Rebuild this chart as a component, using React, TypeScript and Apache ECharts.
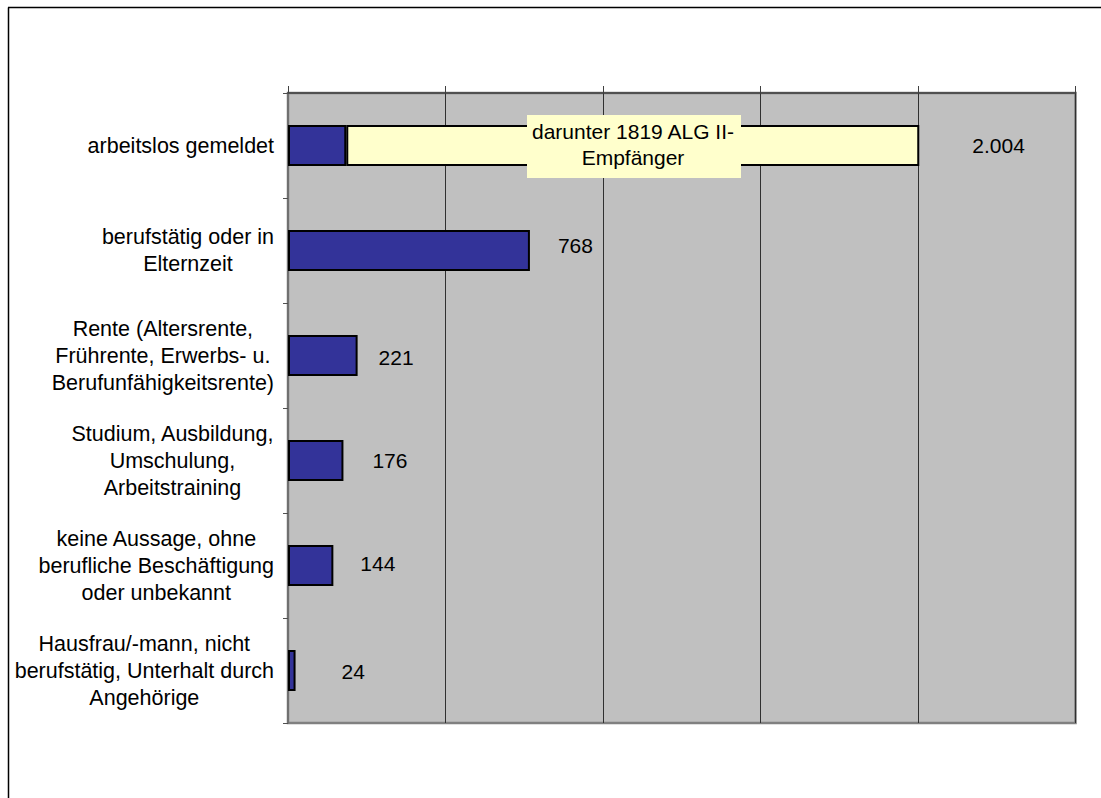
import React, { useEffect, useRef } from "react";
import * as echarts from "echarts";

const categories: string[] = [
  "arbeitslos gemeldet",
  "berufstätig oder in\nElternzeit",
  "Rente (Altersrente,\nFrührente, Erwerbs- u.\nBerufunfähigkeitsrente)",
  "Studium, Ausbildung,\nUmschulung,\nArbeitstraining",
  "keine Aussage, ohne\nberufliche Beschäftigung\noder unbekannt",
  "Hausfrau/-mann, nicht\nberufstätig, Unterhalt durch\nAngehörige",
];

const totals: number[] = [2004, 768, 221, 176, 144, 24];
const algII: (number | null)[] = [1819, null, null, null, null, null];

const xTicks: number[] = [0, 500, 1000, 1500, 2000, 2500];

const labelDistances: number[] = [53, 28, 21, 29, 27, 46];
const labelOffsets: number[][] = [[0, 0], [0, -5], [0, 2], [0, 0], [0, -2], [0, 1]];

const FONT = 'Arial, "Liberation Sans", sans-serif';

const fmt = (v: number): string =>
  v >= 1000 ? Math.floor(v / 1000) + "." + String(v % 1000).padStart(3, "0") : String(v);

export default function App() {
  const ref = useRef<HTMLDivElement>(null);

  useEffect(() => {
    if (!ref.current) return;
    const chart = echarts.init(ref.current, null, { renderer: "svg" });

    const baseValues = totals.map((t, i) => t - (algII[i] ?? 0));

    const option: any = {
      animation: false,
      backgroundColor: "#FFFFFF",
      grid: {
        left: 288,
        right: 25.5,
        top: 93,
        bottom: 75,
        show: true,
        backgroundColor: "#C0C0C0",
        borderColor: "#808080",
        borderWidth: 2.5,
      },
      xAxis: {
        type: "value",
        position: "top",
        min: xTicks[0],
        max: xTicks[xTicks.length - 1],
        interval: xTicks[1] - xTicks[0],
        axisLabel: { show: false },
        axisLine: { show: true, lineStyle: { color: "#404040", width: 1.5 } },
        axisTick: { show: true, length: 7, lineStyle: { color: "#404040", width: 1 } },
        splitLine: { show: true, lineStyle: { color: "#303030", width: 1 } },
      },
      yAxis: {
        type: "category",
        inverse: true,
        data: categories,
        axisLine: { show: true, lineStyle: { color: "#707070", width: 2 } },
        axisTick: { show: true, length: 5, lineStyle: { color: "#505050", width: 1 } },
        splitLine: { show: false },
        axisLabel: {
          margin: 14,
          align: "right",
          formatter: (v: string) =>
            v
              .split("\n")
              .map((l) => `{c|${l}}`)
              .join("\n"),
          rich: {
            c: {
              align: "center",
              fontSize: 21.5,
              lineHeight: 27,
              fontFamily: FONT,
              color: "#000000",
            },
          },
        },
      },
      series: [
        {
          type: "bar",
          stack: "s",
          barWidth: 41,
          itemStyle: { color: "#333399", borderColor: "#000000", borderWidth: 2 },
          data: baseValues.map((v, i) => ({
            value: v,
            label: {
              show: algII[i] == null,
              position: "right",
              distance: labelDistances[i],
              offset: labelOffsets[i],
              formatter: () => fmt(totals[i]),
              fontSize: 21,
              fontFamily: FONT,
              color: "#000000",
            },
          })),
        },
        {
          type: "bar",
          stack: "s",
          barWidth: 41,
          itemStyle: { color: "#FFFFCC", borderColor: "#000000", borderWidth: 2 },
          data: algII.map((v, i) => ({
            value: v,
            label: {
              show: v != null,
              position: "right",
              distance: labelDistances[i],
              offset: labelOffsets[i],
              formatter: () => fmt(totals[i]),
              fontSize: 21,
              fontFamily: FONT,
              color: "#000000",
            },
          })),
        },
      ],
      graphic: [
        {
          type: "line",
          shape: { x1: 8.5, y1: 7.5, x2: 8.5, y2: 800 },
          style: { stroke: "#000000", lineWidth: 1.5 },
          z: 100,
        },
        {
          type: "line",
          shape: { x1: 8, y1: 7.5, x2: 1102, y2: 7.5 },
          style: { stroke: "#000000", lineWidth: 1.5 },
          z: 100,
        },
        {
          type: "group",
          z: 100,
          children: [
            {
              type: "rect",
              shape: { x: 527, y: 115, width: 214, height: 63 },
              style: { fill: "#FFFFCC" },
              z: 100,
            },
            {
              type: "text",
              x: 633,
              y: 144,
              z: 101,
              style: {
                text: `darunter ${algII[0]} ALG II-\nEmpfänger`,
                fill: "#000000",
                fontSize: 21,
                fontFamily: FONT,
                lineHeight: 26,
                align: "center",
                verticalAlign: "middle",
              },
            },
          ],
        },
      ],
    };

    chart.setOption(option);
    return () => chart.dispose();
  }, []);

  return (
    <div
      ref={ref}
      style={{ position: "fixed", left: 0, top: 0, width: 1101, height: 798 }}
    />
  );
}
